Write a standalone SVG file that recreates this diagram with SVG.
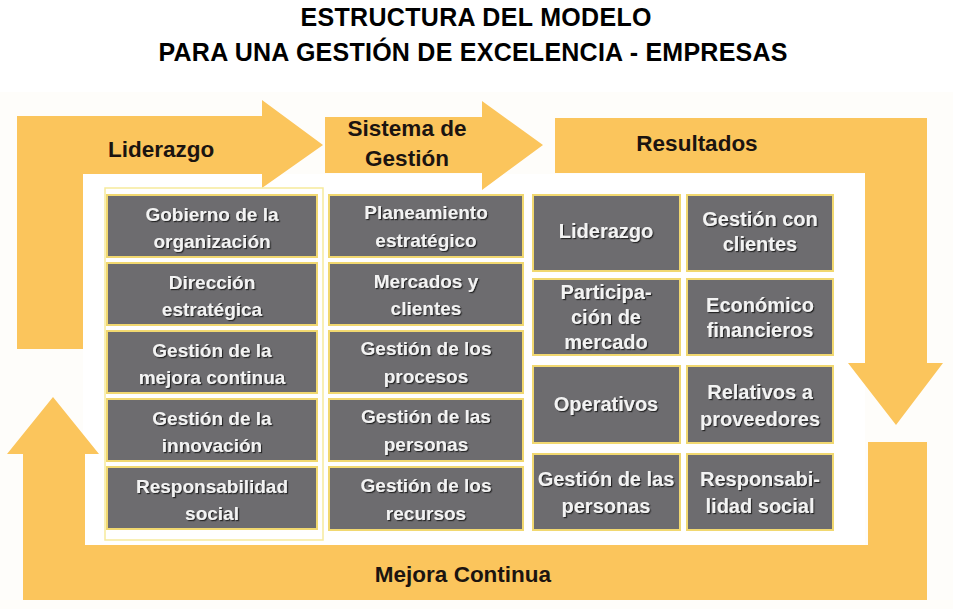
<svg xmlns="http://www.w3.org/2000/svg" width="953" height="609" viewBox="0 0 953 609">
  <defs>
    <filter id="shadow" x="-10%" y="-20%" width="120%" height="150%">
      <feDropShadow dx="1.2" dy="1.2" stdDeviation="0.6" flood-color="#1e1e1e" flood-opacity="0.9"/>
    </filter>
  </defs>
  <style>
    .title { font-family: "Liberation Sans", Arial, sans-serif; font-weight: bold; font-size: 25px; fill: #000; text-anchor: middle; }
    .arrow { fill: #FBC55C; }
    .alabel { font-family: "Liberation Sans", Arial, sans-serif; font-weight: bold; font-size: 22.5px; fill: #1b1410; }
    .box { fill: #6D6C6F; stroke: #F1D870; stroke-width: 2; }
    .bt { font-family: "Liberation Sans", Arial, sans-serif; font-weight: bold; font-size: 19px; fill: #F3F3F3; text-anchor: middle; filter: url(#shadow); }
    .bt2 { font-size: 20px; }
  </style>

  <rect x="0" y="0" width="953" height="609" fill="#FFFFFF"/>
  <rect x="0" y="92" width="953" height="517" fill="#FEFDFA"/>
  <rect x="83" y="174" width="782" height="371" fill="#FFFFFF"/>

  <g id="title">
    <text class="title" x="476" y="26" textLength="351" lengthAdjust="spacing">ESTRUCTURA DEL MODELO</text>
    <text class="title" x="473" y="61" textLength="629" lengthAdjust="spacing">PARA UNA GESTIÓN DE EXCELENCIA - EMPRESAS</text>
  </g>

  <g id="connectors">
    <g id="arrow-liderazgo">
      <polygon class="arrow" points="17,116 262,116 262,100 323,145 262,188 262,174 83,174 83,349 17,349"/>
      <text class="alabel" x="108" y="157">Liderazgo</text>
    </g>
    <g id="arrow-sistema">
      <polygon class="arrow" points="325,117 482,117 482,101 543,145 482,190 482,173 325,173"/>
      <text class="alabel" x="407" y="136" text-anchor="middle">Sistema de</text>
      <text class="alabel" x="407" y="166" text-anchor="middle">Gestión</text>
    </g>
    <g id="arrow-resultados">
      <polygon class="arrow" points="555,118 927,118 927,363 943,363 896,425 848,363 865,363 865,173 555,173"/>
      <text class="alabel" x="697" y="151" text-anchor="middle">Resultados</text>
    </g>
    <g id="arrow-mejora">
      <polygon class="arrow" points="868,442 927,442 927,600 23,600 23,454 7,454 53,397 99,454 85,454 85,545 868,545"/>
      <text class="alabel" x="463" y="582" text-anchor="middle">Mejora Continua</text>
    </g>
  </g>

  <rect id="frame-col1" x="105" y="188" width="218" height="352" fill="none" stroke="#F6EA9C" stroke-width="1.5"/>

  <!-- Column 1: Liderazgo -->
  <g id="n-gobierno">
    <rect class="box" x="107" y="195" width="210" height="62"/>
    <text class="bt" x="212" y="221">Gobierno de la</text>
    <text class="bt" x="212" y="248">organización</text>
  </g>
  <g id="n-direccion">
    <rect class="box" x="107" y="263" width="210" height="62"/>
    <text class="bt" x="212" y="289">Dirección</text>
    <text class="bt" x="212" y="316">estratégica</text>
  </g>
  <g id="n-mejora">
    <rect class="box" x="107" y="331" width="210" height="62"/>
    <text class="bt" x="212" y="357">Gestión de la</text>
    <text class="bt" x="212" y="384">mejora continua</text>
  </g>
  <g id="n-innovacion">
    <rect class="box" x="107" y="399" width="210" height="62"/>
    <text class="bt" x="212" y="425">Gestión de la</text>
    <text class="bt" x="212" y="452">innovación</text>
  </g>
  <g id="n-responsabilidad">
    <rect class="box" x="107" y="467" width="210" height="62"/>
    <text class="bt" x="212" y="493">Responsabilidad</text>
    <text class="bt" x="212" y="520">social</text>
  </g>

  <!-- Column 2: Sistema de Gestión -->
  <g id="n-planeamiento">
    <rect class="box" x="329" y="195" width="194" height="62"/>
    <text class="bt" x="426" y="219">Planeamiento</text>
    <text class="bt" x="426" y="247">estratégico</text>
  </g>
  <g id="n-mercados">
    <rect class="box" x="329" y="263" width="194" height="62"/>
    <text class="bt" x="426" y="288">Mercados y</text>
    <text class="bt" x="426" y="315">clientes</text>
  </g>
  <g id="n-procesos">
    <rect class="box" x="329" y="331" width="194" height="62"/>
    <text class="bt" x="426" y="355">Gestión de los</text>
    <text class="bt" x="426" y="383">procesos</text>
  </g>
  <g id="n-personas">
    <rect class="box" x="329" y="399" width="194" height="62"/>
    <text class="bt" x="426" y="423">Gestión de las</text>
    <text class="bt" x="426" y="451">personas</text>
  </g>
  <g id="n-recursos">
    <rect class="box" x="329" y="467" width="194" height="63"/>
    <text class="bt" x="426" y="492">Gestión de los</text>
    <text class="bt" x="426" y="520">recursos</text>
  </g>

  <!-- Column 3: Resultados -->
  <g id="r-liderazgo">
    <rect class="box" x="533" y="195" width="147" height="76"/>
    <text class="bt bt2" x="606" y="238">Liderazgo</text>
  </g>
  <g id="r-participacion">
    <rect class="box" x="533" y="279" width="147" height="76"/>
    <text class="bt bt2" x="606" y="299">Participa-</text>
    <text class="bt bt2" x="606" y="324">ción de</text>
    <text class="bt bt2" x="606" y="349">mercado</text>
  </g>
  <g id="r-operativos">
    <rect class="box" x="533" y="366" width="147" height="77"/>
    <text class="bt bt2" x="606" y="411">Operativos</text>
  </g>
  <g id="r-personas">
    <rect class="box" x="533" y="454" width="147" height="76"/>
    <text class="bt bt2" x="606" y="486">Gestión de las</text>
    <text class="bt bt2" x="606" y="513">personas</text>
  </g>

  <!-- Column 4: Resultados -->
  <g id="r-clientes">
    <rect class="box" x="687" y="195" width="146" height="76"/>
    <text class="bt bt2" x="760" y="226">Gestión con</text>
    <text class="bt bt2" x="760" y="251">clientes</text>
  </g>
  <g id="r-economico">
    <rect class="box" x="687" y="279" width="146" height="76"/>
    <text class="bt bt2" x="760" y="312">Económico</text>
    <text class="bt bt2" x="760" y="337">financieros</text>
  </g>
  <g id="r-proveedores">
    <rect class="box" x="687" y="366" width="146" height="77"/>
    <text class="bt bt2" x="760" y="399">Relativos a</text>
    <text class="bt bt2" x="760" y="426">proveedores</text>
  </g>
  <g id="r-social">
    <rect class="box" x="687" y="454" width="146" height="76"/>
    <text class="bt bt2" x="760" y="486">Responsabi-</text>
    <text class="bt bt2" x="760" y="513">lidad social</text>
  </g>
</svg>
